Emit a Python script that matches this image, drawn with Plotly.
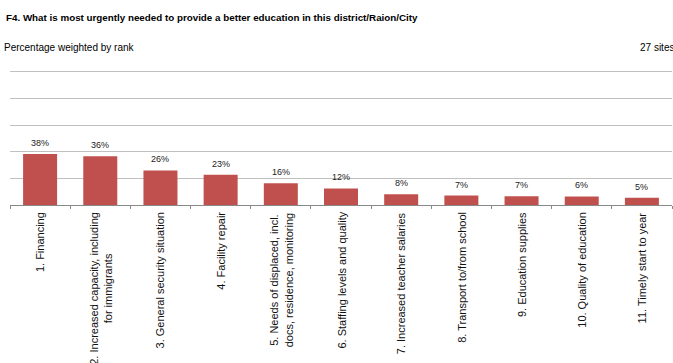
import plotly.graph_objects as go

categories = [
    "1. Financing",
    "2. Increased capacity, including<br>for immigrants",
    "3. General security situation",
    "4. Facility repair",
    "5. Needs of displaced, incl.<br>docs, residence, monitoring",
    "6. Staffing levels and quality",
    "7. Increased teacher salaries",
    "8. Transport to/from school",
    "9. Education supplies",
    "10. Quality of education",
    "11. Timely start to year",
]
values = [38.2, 36.6, 25.9, 22.7, 16.4, 12.4, 8.0, 7.1, 6.6, 6.4, 5.4]
value_labels = ["38%", "36%", "26%", "23%", "16%", "12%", "8%", "7%", "7%", "6%", "5%"]

title_text = "F4. What is most urgently needed to provide a better education in this district/Raion/City"
subtitle_text = "Percentage weighted by rank"
sites_text = "27 sites"

FONT = "Liberation Sans, Arial, sans-serif"

fig = go.Figure()
fig.add_trace(go.Bar(
    x=categories, y=values,
    marker=dict(color="#C0504D", line=dict(width=0)),
    hoverinfo="skip",
))

annotations = []
for c, v, t in zip(categories, values, value_labels):
    annotations.append(dict(
        x=c, y=v, xref="x", yref="y", text=t, showarrow=False,
        yanchor="bottom", yshift=4,
        font=dict(family=FONT, size=9, color="#222222"),
    ))
for c in categories:
    annotations.append(dict(
        x=c, y=0, xref="x", yref="paper", text=c, showarrow=False,
        textangle=-90, yanchor="top", xanchor="center", align="center", yshift=-5,
        font=dict(family=FONT, size=11, color="#111111"),
    ))

TOP = 69
annotations.append(dict(
    x=0, y=1, xref="paper", yref="paper", text="<b>" + title_text + "</b>",
    showarrow=False, xanchor="left", yanchor="middle", xshift=-6, yshift=TOP - 17,
    font=dict(family=FONT, size=9.8, color="#000000"),
))
annotations.append(dict(
    x=0, y=1, xref="paper", yref="paper", text=subtitle_text,
    showarrow=False, xanchor="left", yanchor="middle", xshift=-8, yshift=TOP - 47,
    font=dict(family=FONT, size=10, color="#000000"),
))
annotations.append(dict(
    x=0, y=1, xref="paper", yref="paper", text=sites_text,
    showarrow=False, xanchor="left", yanchor="middle", xshift=628, yshift=TOP - 47,
    font=dict(family=FONT, size=10, color="#000000"),
))

fig.update_layout(
    width=673, height=363,
    margin=dict(l=10, r=1, t=TOP, b=157.5, pad=0),
    paper_bgcolor="white", plot_bgcolor="white",
    showlegend=False,
    bargap=0.435,
    annotations=annotations,
    xaxis=dict(
        type="category", showticklabels=False, ticks="outside", tickson="boundaries",
        ticklen=3, tickcolor="#888888", showline=True, linecolor="#888888", linewidth=1,
        showgrid=False, zeroline=False, fixedrange=True,
    ),
    yaxis=dict(
        range=[0, 102], tickvals=[20, 40, 60, 80, 100], showticklabels=False, showgrid=True,
        gridcolor="#C0C0C0", gridwidth=1, zeroline=False, showline=False, ticks="",
        fixedrange=True,
    ),
)

fig.write_html(
    "out.html",
    config={"displayModeBar": False},
    post_script="document.body.style.margin='0';document.body.style.overflow='hidden';",
)
